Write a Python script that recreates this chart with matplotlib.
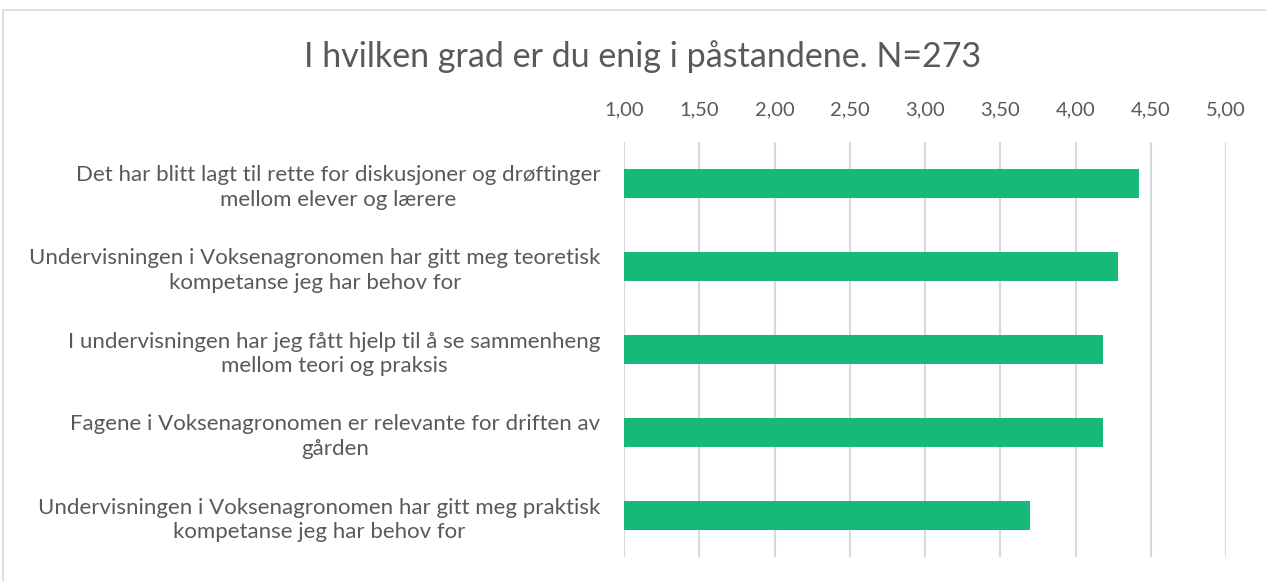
import matplotlib
matplotlib.use("Agg")
from matplotlib import pyplot as plt

categories = [
    "Det har blitt lagt til rette for diskusjoner og drøftinger\nmellom elever og lærere",
    "Undervisningen i Voksenagronomen har gitt meg teoretisk\nkompetanse jeg har behov for",
    "I undervisningen har jeg fått hjelp til å se sammenheng\nmellom teori og praksis",
    "Fagene i Voksenagronomen er relevante for driften av\ngården",
    "Undervisningen i Voksenagronomen har gitt meg praktisk\nkompetanse jeg har behov for",
]
values = [4.42, 4.28, 4.18, 4.18, 3.70]
ticks = [1.0, 1.5, 2.0, 2.5, 3.0, 3.5, 4.0, 4.5, 5.0]
tick_labels = ["1,00", "1,50", "2,00", "2,50", "3,00", "3,50", "4,00", "4,50", "5,00"]

plt.rcParams["font.family"] = ["Lato", "DejaVu Sans"]
gray = "#595959"

W, H = 1266, 581
fig = plt.figure(figsize=(W / 100, H / 100), dpi=100)

# outer chart border (light gray)
fig.patches.append(plt.Rectangle((3 / W, -0.01), 1.0, 1 - 10 / H + 0.01, transform=fig.transFigure,
                                 fill=False, edgecolor="#d9d9d9", linewidth=1.2))

ax = fig.add_axes([624 / W, 1 - 557 / H, (1226 - 624) / W, (557 - 142) / H])

y = list(range(len(categories)))
ax.barh(y, [v - 1.0 for v in values], left=1.0, height=0.34, color="#17B978", zorder=3)

ax.set_xlim(1.0, 5.0)
ax.set_ylim(len(categories) - 0.5, -0.5)
ax.set_xticks(ticks)
ax.set_xticklabels(tick_labels)
ax.xaxis.tick_top()
ax.tick_params(axis="x", length=0, labelsize=14.5, colors=gray, pad=17)
ax.set_yticks(y)
ax.set_yticklabels(categories)
ax.tick_params(axis="y", length=0, labelsize=16, colors=gray, pad=17)
for lbl in ax.get_yticklabels():
    lbl.set_horizontalalignment("right")
    lbl.set_multialignment("center")
    lbl.set_linespacing(1.3)
ax.grid(axis="x", color="#d9d9d9", linewidth=1.5, zorder=0)
for s in ax.spines.values():
    s.set_visible(False)

fig.text(643 / W, 1 - 57 / H, "I hvilken grad er du enig i påstandene. N=273",
         ha="center", va="center", fontsize=24.5, color=gray)

fig.savefig("out.png", dpi=100)
